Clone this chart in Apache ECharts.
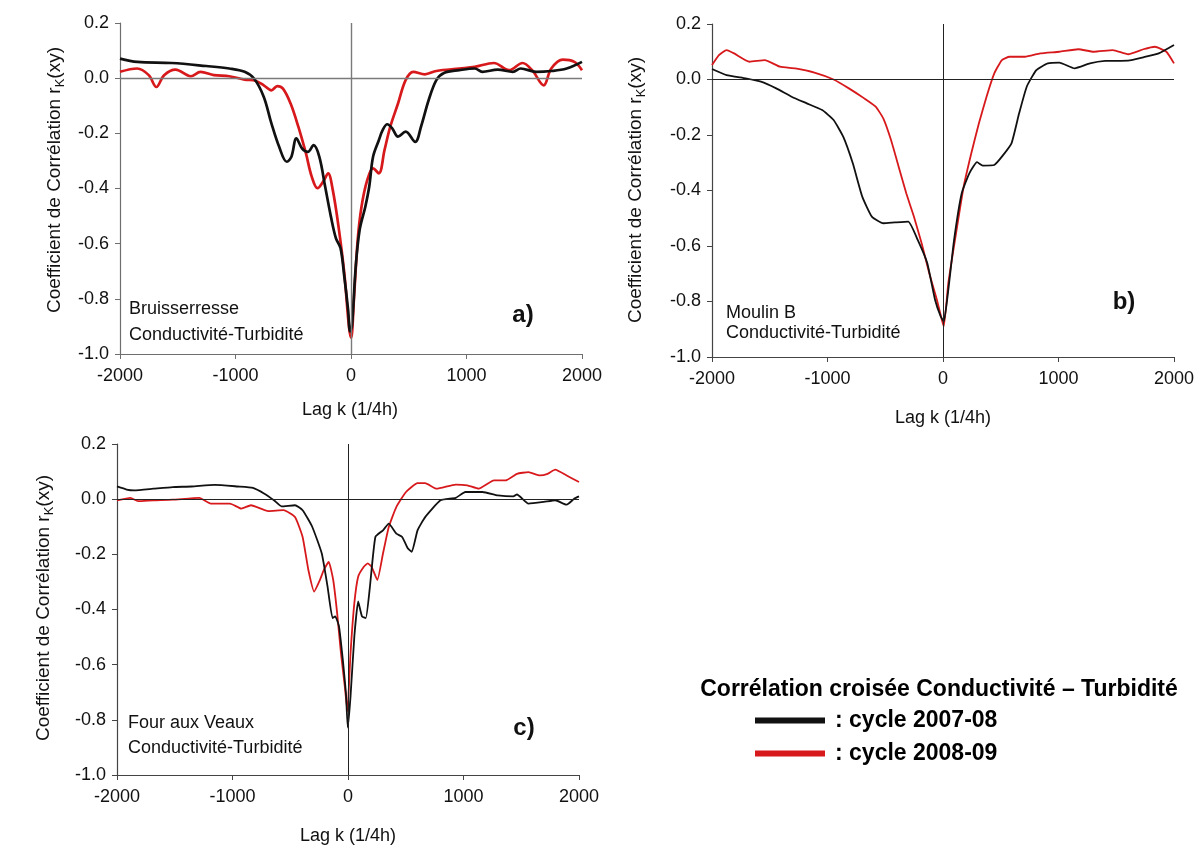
<!DOCTYPE html>
<html>
<head>
<meta charset="utf-8">
<script src="https://cdn.jsdelivr.net/npm/echarts@6/dist/echarts.min.js"></script>
<style>
html,body{margin:0;padding:0;background:#fff;}
#chart{width:1200px;height:848px;}
</style>
</head>
<body>
<div id="chart"></div>
<script>
// ---- Data (lag k in 1/4h, correlation r_k(xy)) ----
const seriesNames = ['cycle 2007-08', 'cycle 2008-09'];
const xTicks = [-2000, -1000, 0, 1000, 2000];
const yTicks = [-1.0, -0.8, -0.6, -0.4, -0.2, 0.0, 0.2];

// Panel a) Bruisserresse
const kA_0708 = [-2000,-1850,-1552,-1253,-1054,-921,-838,-755,-689,-622,-556,-516,-473,-423,-373,-324,-274,-224,-174,-131,-91,-58,-25,-8,8,41,75,124,158,191,241,274,314,357,407,473,556,606,672,739,805,938,1071,1137,1270,1402,1469,1602,1734,1867,2000];
const rA_0708 = [0.071,0.059,0.055,0.044,0.035,0.023,-0.002,-0.068,-0.164,-0.249,-0.303,-0.285,-0.218,-0.255,-0.267,-0.243,-0.285,-0.393,-0.502,-0.58,-0.616,-0.719,-0.84,-0.918,-0.90,-0.683,-0.55,-0.466,-0.393,-0.285,-0.225,-0.188,-0.167,-0.182,-0.212,-0.194,-0.231,-0.176,-0.08,-0.007,0.019,0.029,0.035,0.023,0.031,0.023,0.035,0.023,0.026,0.035,0.059];
const kA_0809 = [-2000,-1851,-1751,-1685,-1618,-1519,-1386,-1303,-1187,-1054,-921,-822,-755,-689,-639,-589,-523,-456,-390,-340,-290,-241,-198,-158,-108,-58,-18,1,25,58,91,141,191,241,290,340,407,473,539,639,739,938,1071,1237,1369,1485,1568,1668,1734,1834,1934,2000];
const rA_0809 = [0.023,0.035,0.011,-0.032,0.011,0.031,0.007,0.023,0.011,0.007,-0.005,-0.01,-0.026,-0.044,-0.029,-0.038,-0.092,-0.176,-0.273,-0.357,-0.399,-0.375,-0.345,-0.405,-0.538,-0.707,-0.90,-0.942,-0.803,-0.586,-0.466,-0.369,-0.327,-0.345,-0.261,-0.176,-0.092,-0.007,0.023,0.014,0.026,0.035,0.041,0.055,0.029,0.055,0.029,-0.026,0.035,0.067,0.059,0.029];

// Panel b) Moulin B
const kB_0708 = [-2000,-1874,-1709,-1576,-1444,-1311,-1179,-1046,-947,-864,-781,-699,-616,-517,-417,-301,-219,-136,-69,-20,7,46,96,162,228,295,344,444,510,593,659,725,808,907,1007,1139,1272,1404,1603,1735,1868,2000];
const rB_0708 = [0.038,0.016,0.004,-0.008,-0.032,-0.062,-0.086,-0.11,-0.146,-0.206,-0.302,-0.422,-0.494,-0.518,-0.515,-0.512,-0.578,-0.662,-0.794,-0.854,-0.872,-0.758,-0.578,-0.41,-0.338,-0.298,-0.31,-0.308,-0.278,-0.23,-0.122,-0.026,0.034,0.058,0.061,0.04,0.058,0.067,0.068,0.08,0.094,0.124];
const kB_0809 = [-2000,-1940,-1874,-1808,-1675,-1543,-1411,-1278,-1113,-947,-815,-682,-583,-517,-450,-384,-318,-252,-185,-119,-53,-10,7,46,113,179,245,311,377,444,510,576,709,841,1007,1172,1305,1470,1603,1735,1834,1934,2000];
const rB_0809 = [0.052,0.088,0.106,0.094,0.064,0.07,0.046,0.04,0.025,0.0,-0.032,-0.068,-0.098,-0.14,-0.218,-0.314,-0.41,-0.494,-0.59,-0.698,-0.794,-0.866,-0.89,-0.734,-0.554,-0.386,-0.266,-0.158,-0.062,0.022,0.07,0.082,0.082,0.094,0.1,0.109,0.1,0.106,0.091,0.109,0.118,0.1,0.058];

// Panel c) Four aux Veaux
const kC_0708 = [-2000,-1917,-1851,-1685,-1519,-1354,-1155,-956,-823,-724,-641,-575,-459,-393,-310,-227,-177,-134,-111,-78,-45,-18,-2,22,55,88,121,154,187,237,303,353,419,469,519,552,602,668,801,933,1016,1165,1297,1430,1463,1562,1695,1794,1893,1960,2000];
const rC_0708 = [0.046,0.035,0.032,0.038,0.044,0.046,0.052,0.046,0.041,0.02,-0.004,-0.026,-0.022,-0.04,-0.1,-0.197,-0.317,-0.431,-0.425,-0.461,-0.582,-0.702,-0.828,-0.714,-0.497,-0.371,-0.425,-0.431,-0.329,-0.137,-0.113,-0.089,-0.125,-0.137,-0.179,-0.191,-0.113,-0.065,-0.004,0.005,0.026,0.026,0.014,0.01,0.017,-0.016,-0.01,-0.004,-0.02,0.002,0.01];
const kC_0809 = [-2000,-1884,-1818,-1685,-1519,-1287,-1188,-1022,-923,-840,-691,-558,-459,-393,-343,-293,-243,-210,-167,-128,-94,-61,-28,-5,22,55,88,137,171,204,254,303,353,419,502,602,668,767,933,1033,1132,1264,1364,1463,1562,1662,1728,1794,1893,2000];
const rC_0809 = [-0.004,0.005,-0.007,-0.004,-0.002,0.005,-0.016,-0.016,-0.034,-0.022,-0.043,-0.04,-0.065,-0.137,-0.257,-0.335,-0.293,-0.257,-0.227,-0.293,-0.413,-0.558,-0.678,-0.768,-0.558,-0.377,-0.281,-0.245,-0.233,-0.245,-0.293,-0.197,-0.101,-0.028,0.026,0.058,0.058,0.038,0.053,0.05,0.038,0.068,0.068,0.092,0.098,0.086,0.092,0.107,0.086,0.062];

// ---- Helpers ----
function pairs(k, r) { return k.map((v, i) => [v, r[i]]); }
const FONT = '"Liberation Sans", Arial, sans-serif';
const BLACK = '#111111';
const RED = '#d7191c';

const grids = [
  { left: 120, top: 23, width: 462, height: 331 },  // a
  { left: 712, top: 24, width: 462, height: 333 },  // b
  { left: 117, top: 444, width: 462, height: 331 }  // c
];
const axisCol = ['#6e6e6e', '#444', '#444'];
const zeroCol = ['#7a7a7a', '#222', '#222'];
const lw = [2.7, 1.8, 1.8];

function xAxisFor(i) {
  return {
    type: 'value', gridIndex: i, min: xTicks[0], max: xTicks[xTicks.length - 1], interval: 1000,
    axisLine: { onZero: false, lineStyle: { color: axisCol[i], width: 1.2 } },
    axisTick: { inside: false, length: 5, lineStyle: { color: axisCol[i] } },
    axisLabel: { fontFamily: FONT, fontSize: 18, color: '#111', margin: 13, formatter: v => String(v) },
    splitLine: { show: false }
  };
}
function yAxisFor(i) {
  return {
    type: 'value', gridIndex: i, min: yTicks[0], max: yTicks[yTicks.length - 1], interval: 0.2,
    axisLine: { show: true, onZero: false, lineStyle: { color: axisCol[i], width: 1.2 } },
    axisTick: { show: true, inside: false, length: 5, lineStyle: { color: axisCol[i] } },
    axisLabel: {
      fontFamily: FONT, fontSize: 18, color: '#111', margin: 11,
      formatter: v => (Math.abs(v) < 1e-9 ? 0 : v).toFixed(1)
    },
    splitLine: { show: false }
  };
}

const panelData = [
  [pairs(kA_0708, rA_0708), pairs(kA_0809, rA_0809)],
  [pairs(kB_0708, rB_0708), pairs(kB_0809, rB_0809)],
  [pairs(kC_0708, rC_0708), pairs(kC_0809, rC_0809)]
];

const series = [];
panelData.forEach((pd, i) => {
  [1, 0].forEach(j => {
    const s = {
      name: seriesNames[j], type: 'line', xAxisIndex: i, yAxisIndex: i,
      data: pd[j], showSymbol: false, smooth: i === 0 ? 0.35 : 0.15,
      color: j === 0 ? BLACK : RED,
      lineStyle: { width: lw[i], color: j === 0 ? BLACK : RED },
      z: j === 0 ? 4 : 3, animation: false
    };
    if (j === 1) {
      s.markLine = {
        silent: true, symbol: 'none', animation: false,
        label: { show: false },
        lineStyle: { color: zeroCol[i], width: i === 0 ? 1.4 : 1, type: 'solid' },
        data: [{ yAxis: 0 }, { xAxis: 0 }]
      };
    }
    series.push(s);
  });
});

function txt(x, y, text, style) {
  return {
    type: 'text', x: x, y: y, silent: true,
    style: Object.assign({ text: text, fontFamily: FONT, fontSize: 18, fill: '#111', align: 'left', verticalAlign: 'middle' }, style || {})
  };
}

const yTitleRich = {
  s: { fontFamily: FONT, fontSize: 13, fill: '#111', padding: [10, 0, 0, 0] }
};
function yTitle(x, y) {
  return {
    type: 'text', x: x, y: y, rotation: Math.PI / 2, silent: true,
    style: {
      text: 'Coefficient de Corrélation r{s|K}(xy)', fontFamily: FONT, fontSize: 19, fill: '#111',
      align: 'center', verticalAlign: 'middle', rich: yTitleRich
    }
  };
}

const graphics = [
  yTitle(55, 180), yTitle(636, 190), yTitle(44, 608),
  txt(350, 410, 'Lag k (1/4h)', { align: 'center' }),
  txt(943, 418, 'Lag k (1/4h)', { align: 'center' }),
  txt(348, 836, 'Lag k (1/4h)', { align: 'center' }),
  txt(129, 309, 'Bruisserresse'),
  txt(129, 335, 'Conductivité-Turbidité'),
  txt(726, 313, 'Moulin B'),
  txt(726, 333, 'Conductivité-Turbidité'),
  txt(128, 723, 'Four aux Veaux'),
  txt(128, 748, 'Conductivité-Turbidité'),
  txt(523, 315, 'a)', { align: 'center', fontSize: 24, fontWeight: 'bold' }),
  txt(1124, 302, 'b)', { align: 'center', fontSize: 24, fontWeight: 'bold' }),
  txt(524, 728, 'c)', { align: 'center', fontSize: 24, fontWeight: 'bold' }),
  txt(939, 690, 'Corrélation croisée Conductivité – Turbidité', { align: 'center', fontSize: 23, fontWeight: 'bold', fill: '#000' })
];

const chart = echarts.init(document.getElementById('chart'), null, { renderer: 'canvas' });
chart.setOption({
  backgroundColor: '#fff',
  animation: false,
  grid: grids,
  xAxis: [0, 1, 2].map(xAxisFor),
  yAxis: [0, 1, 2].map(yAxisFor),
  series: series,
  legend: {
    data: seriesNames, orient: 'vertical', left: 750, top: 704,
    icon: 'rect', itemWidth: 70, itemHeight: 6, itemGap: 10,
    selectedMode: false,
    formatter: name => ': ' + name,
    textStyle: { fontFamily: FONT, fontSize: 23, fontWeight: 'bold', color: '#000', padding: [0, 0, 0, 5] }
  },
  graphic: graphics
});
</script>
</body>
</html>
